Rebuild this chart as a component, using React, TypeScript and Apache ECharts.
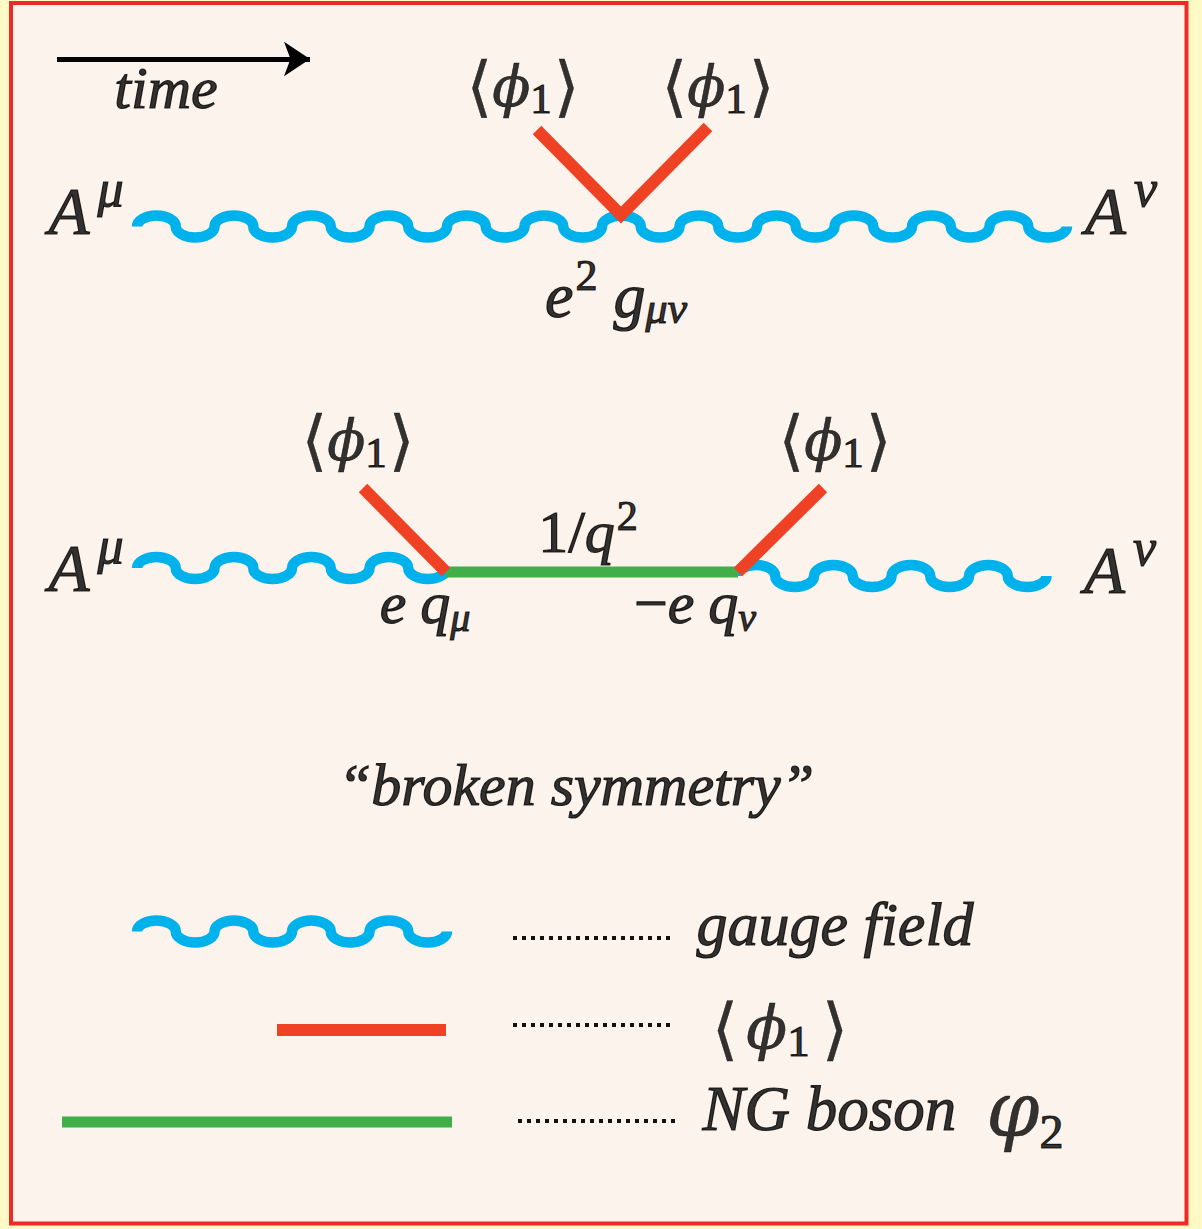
import React, { useEffect, useRef } from "react";
import * as echarts from "echarts";

const W = 1202;
const H = 1229;

// Gauge-field (wavy) lines: [x start, y of wave axis, number of half-waves]
const gaugeLines: number[][] = [
  [137, 226.5, 24],
  [137, 568, 8],
  [736.5, 576, 8],
  [137, 931.5, 8],
];
// <phi1> (red) lines
const vevLines: number[][][] = [
  [[537, 130], [621, 215], [708, 127]],
  [[363, 488], [446, 572]],
  [[823, 488], [738, 572]],
  [[277, 1030], [446, 1030]],
];
// NG boson (green) lines
const ngLines: number[][][] = [
  [[446, 572], [738, 572]],
  [[62, 1122], [452, 1122]],
];
// time arrow
const timeArrow: number[][] = [[57, 59], [310, 59]];
// dotted leaders in the legend
const leaderLines: number[][][] = [
  [[513, 938], [672, 938]],
  [[513, 1025], [672, 1025]],
  [[518, 1121], [676, 1121]],
];
// text labels: [x, y] and rich text
const labelPos: number[][] = [
  [166, 88], [86, 211], [1121, 211], [523, 86], [718, 86], [616, 295],
  [86, 568], [1120, 570], [358, 440], [835, 440], [588, 532], [425, 603], [695, 603],
  [576, 785], [835, 924], [780, 1028], [883, 1109],
];
const labelText: string[] = [
  "{txt|time}",
  "{A|A}{supA|μ}",
  "{A|A}{supA|ν}",
  "{br|⟨}{ph|ϕ}{sub1|1}{br|⟩}",
  "{br|⟨}{ph|ϕ}{sub1|1}{br|⟩}",
  "{mT|e}{sup2|2}{mT2|g}{subm|μν}",
  "{A|A}{supA|μ}",
  "{A|A}{supA|ν}",
  "{br|⟨}{ph|ϕ}{sub1|1}{br|⟩}",
  "{br|⟨}{ph|ϕ}{sub1|1}{br|⟩}",
  "{up|1/}{m|q}{sup2b|2}",
  "{m|e}{m2|q}{subm2|μ}",
  "{up|−}{m|e}{m2|q}{subm2|ν}",
  "{txt|“broken symmetry”}",
  "{txtL|gauge field}",
  "{brL|⟨}{phL|ϕ}{sub1L|1}{brL2|⟩}",
  "{txtN|NG boson}{vphi|φ}{sub2|2}",
];

const BLUE = "#00B2EB";
const RED = "#EF4123";
const GREEN = "#40AE49";
const YELLOW = "#FFF9C6";
const CREAM = "#FCF3EC";
const BORDER = "#EE2A27";
const INK = "#000000";

const HALF_WAVE = 38.75;
const WAVE_RY = 11;
const KAPPA = 0.5523;

const SERIF = "Liberation Serif, serif";
const GREEK = "DejaVu Serif, serif";
const BRK = "DejaVu Sans, sans-serif";

const ink = { color: INK, textBorderColor: INK, textBorderWidth: 1.2 };

const rich: Record<string, any> = {
  txt: { ...ink, fontFamily: SERIF, fontStyle: "italic", fontSize: 60 },
  txtL: { ...ink, fontFamily: SERIF, fontStyle: "italic", fontSize: 62 },
  txtN: { ...ink, fontFamily: SERIF, fontStyle: "italic", fontSize: 63 },
  A: { ...ink, fontFamily: SERIF, fontStyle: "italic", fontSize: 67 },
  supA: { ...ink, fontFamily: SERIF, fontStyle: "italic", fontSize: 52, padding: [0, 0, 45, 8] },
  br: { ...ink, fontFamily: BRK, fontSize: 66, textBorderWidth: 0.4 },
  ph: { ...ink, fontFamily: GREEK, fontStyle: "italic", fontSize: 56, textBorderWidth: 0.6 },
  sub1: { ...ink, fontFamily: SERIF, fontSize: 43, padding: [24, 2, 0, 0] },
  brL: { ...ink, fontFamily: BRK, fontSize: 68, textBorderWidth: 0.4, padding: [0, 8, 0, 0] },
  brL2: { ...ink, fontFamily: BRK, fontSize: 68, textBorderWidth: 0.4, padding: [0, 0, 0, 12] },
  phL: { ...ink, fontFamily: GREEK, fontStyle: "italic", fontSize: 60, textBorderWidth: 0.6 },
  sub1L: { ...ink, fontFamily: SERIF, fontSize: 45, padding: [26, 0, 0, 0] },
  m: { ...ink, fontFamily: SERIF, fontStyle: "italic", fontSize: 60 },
  m2: { ...ink, fontFamily: SERIF, fontStyle: "italic", fontSize: 60, padding: [0, 0, 0, 14] },
  mT: { ...ink, fontFamily: SERIF, fontStyle: "italic", fontSize: 64 },
  mT2: { ...ink, fontFamily: SERIF, fontStyle: "italic", fontSize: 64, padding: [0, 0, 0, 16] },
  up: { ...ink, fontFamily: SERIF, fontSize: 60 },
  sup2: { ...ink, fontFamily: SERIF, fontSize: 44, padding: [0, 0, 40, 2] },
  sup2b: { ...ink, fontFamily: SERIF, fontSize: 42, padding: [0, 0, 32, 2] },
  subm: { ...ink, fontFamily: SERIF, fontStyle: "italic", fontSize: 44, padding: [26, 0, 0, 0] },
  subm2: { ...ink, fontFamily: SERIF, fontStyle: "italic", fontSize: 40, padding: [28, 0, 0, 0] },
  vphi: { ...ink, fontFamily: GREEK, fontStyle: "italic", fontSize: 76, textBorderWidth: 0.4, padding: [0, 0, 0, 30] },
  sub2: { ...ink, fontFamily: SERIF, fontSize: 48, padding: [45, 0, 0, 0] },
};

export default function App() {
  const ref = useRef<HTMLDivElement>(null);
  useEffect(() => {
    if (!ref.current) return;
    const chart = echarts.init(ref.current, null, { renderer: "svg" });
    const option: any = {
      animation: false,
      backgroundColor: YELLOW,
      graphic: [
        {
          type: "rect",
          z: 0,
          shape: { x: 11, y: 3, width: 1175.5, height: 1220.5 },
          style: { fill: CREAM, stroke: BORDER, lineWidth: 4 },
        },
      ],
      grid: { left: 0, right: 0, top: 0, bottom: 0, containLabel: false },
      xAxis: { type: "value", min: 0, max: W, show: false },
      yAxis: { type: "value", min: 0, max: H, inverse: true, show: false },
      series: [
        {
          type: "custom",
          name: "gauge field",
          coordinateSystem: "cartesian2d",
          clip: false,
          silent: true,
          encode: { x: 0, y: 1 },
          data: gaugeLines,
          renderItem: (params: any, api: any) => {
            const x0 = api.value(0);
            const y0 = api.value(1);
            const n = api.value(2);
            const p0 = api.coord([x0, y0]);
            const pw = api.coord([x0 + HALF_WAVE, y0]);
            const py = api.coord([x0, y0 - WAVE_RY]);
            const w = pw[0] - p0[0];
            const ry = Math.abs(p0[1] - py[1]);
            const cy = p0[1];
            const hw = w / 2;
            let d = `M ${p0[0]} ${cy}`;
            for (let i = 0; i < n; i++) {
              const xs = p0[0] + w * i;
              const s = i % 2 === 0 ? -1 : 1; // hump then trough
              const yt = cy + s * ry;
              d += ` C ${xs} ${cy + s * KAPPA * ry} ${xs + hw - KAPPA * hw} ${yt} ${xs + hw} ${yt}`;
              d += ` C ${xs + hw + KAPPA * hw} ${yt} ${xs + w} ${cy + s * KAPPA * ry} ${xs + w} ${cy}`;
            }
            return {
              type: "path",
              shape: { pathData: d },
              style: { fill: "none", stroke: BLUE, lineWidth: 10.5, lineCap: "butt" },
            };
          },
        },
        {
          type: "lines",
          name: "NG boson",
          coordinateSystem: "cartesian2d",
          polyline: true,
          silent: true,
          data: ngLines.map((c) => ({ coords: c })),
          lineStyle: { color: GREEN, width: 11, opacity: 1, cap: "butt" },
        },
        {
          type: "lines",
          name: "phi1",
          coordinateSystem: "cartesian2d",
          polyline: true,
          silent: true,
          data: vevLines.map((c) => ({ coords: c })),
          lineStyle: { color: RED, width: 12, opacity: 1, cap: "butt", join: "miter", miterLimit: 4 },
        },
        {
          type: "lines",
          name: "leaders",
          coordinateSystem: "cartesian2d",
          silent: true,
          data: leaderLines.map((c) => ({ coords: c })),
          lineStyle: { color: "#111", width: 4, opacity: 1, type: [4, 5], cap: "butt" },
        },
        {
          type: "lines",
          name: "time",
          coordinateSystem: "cartesian2d",
          silent: true,
          symbol: ["none", "arrow"],
          symbolSize: [0, 26],
          data: [{ coords: timeArrow }],
          lineStyle: { color: "#000", width: 5, opacity: 1, cap: "butt" },
        },
        {
          type: "scatter",
          name: "labels",
          silent: true,
          symbolSize: 1,
          itemStyle: { color: "rgba(0,0,0,0)" },
          data: labelPos.map((p, i) => ({ value: p, label: { formatter: labelText[i] } })),
          label: {
            show: true,
            position: "inside",
            align: "center",
            verticalAlign: "middle",
            color: INK,
            fontFamily: SERIF,
            rich,
          },
          z: 10,
        },
      ],
    };
    chart.setOption(option);
    return () => chart.dispose();
  }, []);
  return (
    <div
      ref={ref}
      style={{ position: "absolute", left: 0, top: 0, width: W, height: H }}
    />
  );
}
